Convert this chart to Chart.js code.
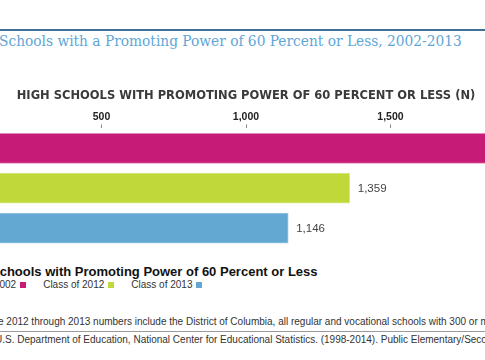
<!DOCTYPE html>
<html>
<head>
<meta charset="utf-8">
<script src="https://cdn.jsdelivr.net/npm/chart.js@4.4.1/dist/chart.umd.min.js"></script>
<style>
  html, body { margin: 0; padding: 0; background: #fff; }
  body { width: 485px; height: 360px; position: relative; overflow: hidden; font-family: "Liberation Sans", Arial, sans-serif; }
  .rule { position: absolute; left: 0; width: 485px; top: 29px; height: 2px; background: #3f7197; }
  .title { position: absolute; left: -1px; top: 32px; white-space: nowrap; color: #5ea6d7;
           font-family: "DejaVu Serif Condensed", "DejaVu Serif", serif; font-stretch: condensed; font-size: 15.3px; }
  #wrap { position: absolute; left: -44px; top: 89px; width: 580px; height: 159px; }
  .legend-title { position: absolute; left: -9px; top: 264px; font-weight: bold; font-size: 13px; color: #111; white-space: nowrap; }
  .legend { position: absolute; left: -45px; top: 279px; font-size: 10px; color: #333; white-space: nowrap; }
  .legend span.item { margin-right: 17px; }
  .legend i { display: inline-block; width: 6px; height: 6px; margin-left: 4px; vertical-align: 0px; }
  .note { position: absolute; left: -2px; top: 316px; font-size: 10px; color: #333; white-space: nowrap; }
  .rule2 { position: absolute; left: 0; width: 485px; top: 331px; height: 1px; background: #9a9a9a; }
  .source { position: absolute; left: -5px; top: 334px; font-size: 10px; color: #333; white-space: nowrap; }
</style>
</head>
<body>
<div class="rule"></div>
<div class="title">Schools with a Promoting Power of 60 Percent or Less, 2002-2013</div>
<div id="wrap"><canvas id="chart"></canvas></div>
<div class="legend-title">Schools with Promoting Power of 60 Percent or Less</div>
<div class="legend" id="legend"></div>
<div class="note">e 2012 through 2013 numbers include the District of Columbia, all regular and vocational schools with 300 or more</div>
<div class="rule2"></div>
<div class="source">U.S. Department of Education, National Center for Educational Statistics. (1998-2014). Public Elementary/Secondary</div>
<script>
const categories = ['Class of 2002', 'Class of 2012', 'Class of 2013'];
const schools = [2007, 1359, 1146];
const barColors = ['#c61c78', '#c0d83a', '#63a8d2'];
const tickValues = [500, 1000, 1500];

const fmt = v => v.toLocaleString('en-US');

// legend built from the same arrays
const legend = document.getElementById('legend');
categories.forEach((c, i) => {
  const s = document.createElement('span');
  s.className = 'item';
  s.innerHTML = c + '<i style="background:' + barColors[i] + '"></i>';
  legend.appendChild(s);
});

const valueLabels = {
  id: 'valueLabels',
  afterDatasetsDraw(chart) {
    const ctx = chart.ctx;
    const meta = chart.getDatasetMeta(0);
    ctx.save();
    ctx.font = '11.5px "Liberation Sans", Arial, sans-serif';
    ctx.fillStyle = '#444';
    ctx.textBaseline = 'middle';
    meta.data.forEach((bar, i) => {
      ctx.fillText(fmt(schools[i]), bar.x + 8, bar.y + 1);
    });
    ctx.restore();
  }
};

const ctx = document.getElementById('chart').getContext('2d');
new Chart(ctx, {
  type: 'bar',
  data: {
    labels: categories,
    datasets: [{
      data: schools,
      backgroundColor: barColors,
      borderColor: ['#e08ab8', '#dbe98f', '#9cc8e4'],
      borderWidth: 1,
      borderSkipped: false,
      barThickness: 30
    }]
  },
  options: {
    indexAxis: 'y',
    responsive: true,
    maintainAspectRatio: false,
    animation: false,
    layout: { padding: 0 },
    plugins: { legend: { display: false }, tooltip: { enabled: false } },
    scales: {
      x: {
        position: 'top',
        min: 0,
        max: 2000,
        afterBuildTicks(scale) {
          scale.ticks = [0].concat(tickValues, [2000]).map(v => ({ value: v }));
        },
        ticks: {
          padding: 1,
          color: '#222',
          font: { family: '"Liberation Sans", Arial, sans-serif', size: 10.5, weight: 'bold' },
          maxRotation: 0,
          callback: v => tickValues.includes(v) ? fmt(v) : ''
        },
        grid: { drawOnChartArea: false, drawTicks: true, tickLength: 4, color: '#888' },
        border: { display: false },
        title: {
          display: true,
          text: 'HIGH SCHOOLS WITH PROMOTING POWER OF 60 PERCENT OR LESS (N)',
          color: '#3a3a3a',
          font: { family: '"DejaVu Sans", Arial, sans-serif', size: 11.5, weight: 'bold' },
          padding: { top: 0, bottom: 7 }
        }
      },
      y: { display: false }
    }
  },
  plugins: [valueLabels]
});
</script>
</body>
</html>
